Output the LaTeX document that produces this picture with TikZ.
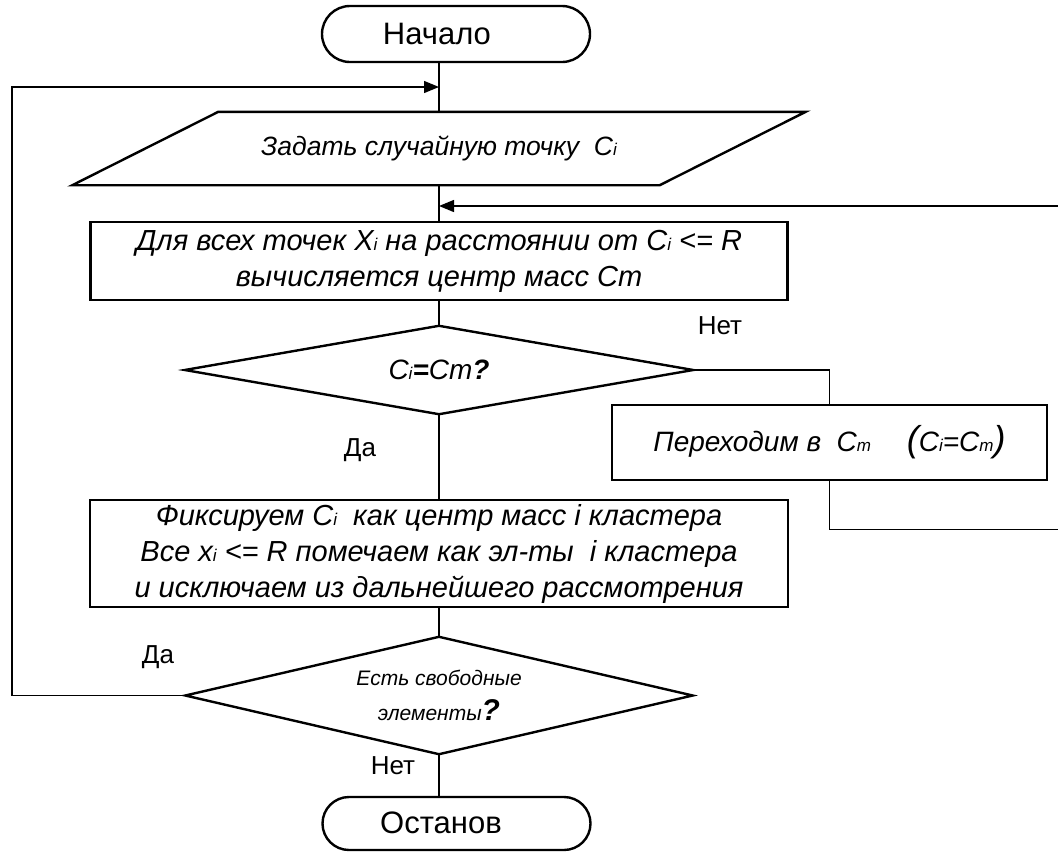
\documentclass[tikz,border=0pt]{standalone}
\usepackage{fontspec}
\setmainfont{Liberation Sans}
\usetikzlibrary{shapes.misc,arrows.meta,calc}
% small index letter (Ci, Cm, xi)
\newcommand\lo[1]{{\fontsize{17}{17}\selectfont #1}}
\begin{document}
\begin{tikzpicture}[x=1pt,y=-1pt,
  shape line/.style={draw=black, line width=2.4pt, line join=miter},
  flow/.style={line width=1.3pt},
  arr/.style={flow, -{Triangle[length=15pt,width=12pt]}},
  term/.style={rounded rectangle, shape line, minimum width=268pt, inner sep=0pt},
  proc/.style={rectangle, shape line, inner sep=0pt, align=center,
    font=\fontsize{29}{36}\selectfont\itshape},
  body/.style={rectangle, inner sep=0pt, align=center},
  tag/.style={font=\fontsize{26}{30}\selectfont, inner sep=0pt}
]
\useasboundingbox (0,0) rectangle (1058,852);

% terminals
\node[term, minimum height=56pt] (start) at (456,34) {};
\node[tag, font=\fontsize{31}{36}\selectfont] (starttxt) at (437,34) {Начало};
\node[term, minimum height=53pt] (stop) at (456.5,823.5) {};
\node[tag, font=\fontsize{31}{36}\selectfont] (stoptxt) at (441,823) {Останов};

% input block: parallelogram drawn around a plain node
\node[body, minimum width=587pt, minimum height=73pt,
  font=\fontsize{26.5}{30}\selectfont\itshape] (para) at (439,148.5)
  {Задать случайную точку\ \ C\lo{i}};
\draw[shape line]
  ($(para.north west)+(73,0)$) -- ($(para.north east)+(73,0)$) --
  ($(para.south east)+(-73,0)$) -- ($(para.south west)+(-73,0)$) -- cycle;

% process blocks
\node[proc, minimum width=697pt, minimum height=78pt] (centre) at (439,261)
  {Для всех точек X\lo{i} на расстоянии от C\lo{i} <= R\\
   вычисляется центр масс Cm};
\node[proc, minimum width=435pt, minimum height=75pt,
  font=\fontsize{28}{30}\selectfont\itshape] (move) at (829.5,442.5)
  {Переходим в\ \ C\lo{m}\quad\ {\fontsize{36}{36}\selectfont(}C\lo{i}=C\lo{m}{\fontsize{36}{36}\selectfont)}};
\node[proc, minimum width=698pt, minimum height=107pt] (fix) at (439,553.5)
  {Фиксируем C\lo{i}\ \ как центр масс i кластера\\
   Все x\lo{i} <= R помечаем как эл-ты\ \ i кластера\\
   и исключаем из дальнейшего рассмотрения};

% decisions: diamonds drawn through the anchors of plain nodes
\node[body, minimum width=508pt, minimum height=88pt,
  font=\fontsize{28}{30}\selectfont\itshape] (same) at (439,370)
  {C\lo{i}\textbf{=}Cm\textbf{?}};
\draw[shape line] (same.north) -- (same.east) -- (same.south) -- (same.west) -- cycle;
\node[body, minimum width=507pt, minimum height=117pt,
  font=\fontsize{21}{35}\selectfont\itshape] (free) at (439,695.5)
  {Есть свободные\\ элементы{\fontsize{30}{30}\selectfont\bfseries ?}};
\draw[shape line] (free.north) -- (free.east) -- (free.south) -- (free.west) -- cycle;

% branch labels
\node[tag] (yes1) at (360,450) {Да};
\node[tag] (no1) at (720,326) {Нет};
\node[tag] (yes2) at (158,657) {Да};
\node[tag] (no2) at (393,766) {Нет};

% connectors
\coordinate (loopc) at (12,87);
\coordinate (backc) at (1072,206);
\draw[flow] (para.north |- start.south) -- (para.north);
\draw[arr] (free.west) -| (loopc) -- (loopc -| para.north);
\draw[flow] (para.south) -- (centre.north);
\draw[flow] (centre.south) -- (same.north);
\draw[flow] (same.east) -| (move.north);
\draw[flow] (same.south) -- (fix.north);
\draw[flow] (fix.south) -- (free.north);
\draw[flow] (free.south) -- (free.south |- stop.north);
\begin{scope}
  \clip (0,0) rectangle (1058,852);
  \draw[arr] (move.south) -- ++(0,48) -| (backc) -- (backc -| centre.north);
\end{scope}
\end{tikzpicture}
\end{document}
